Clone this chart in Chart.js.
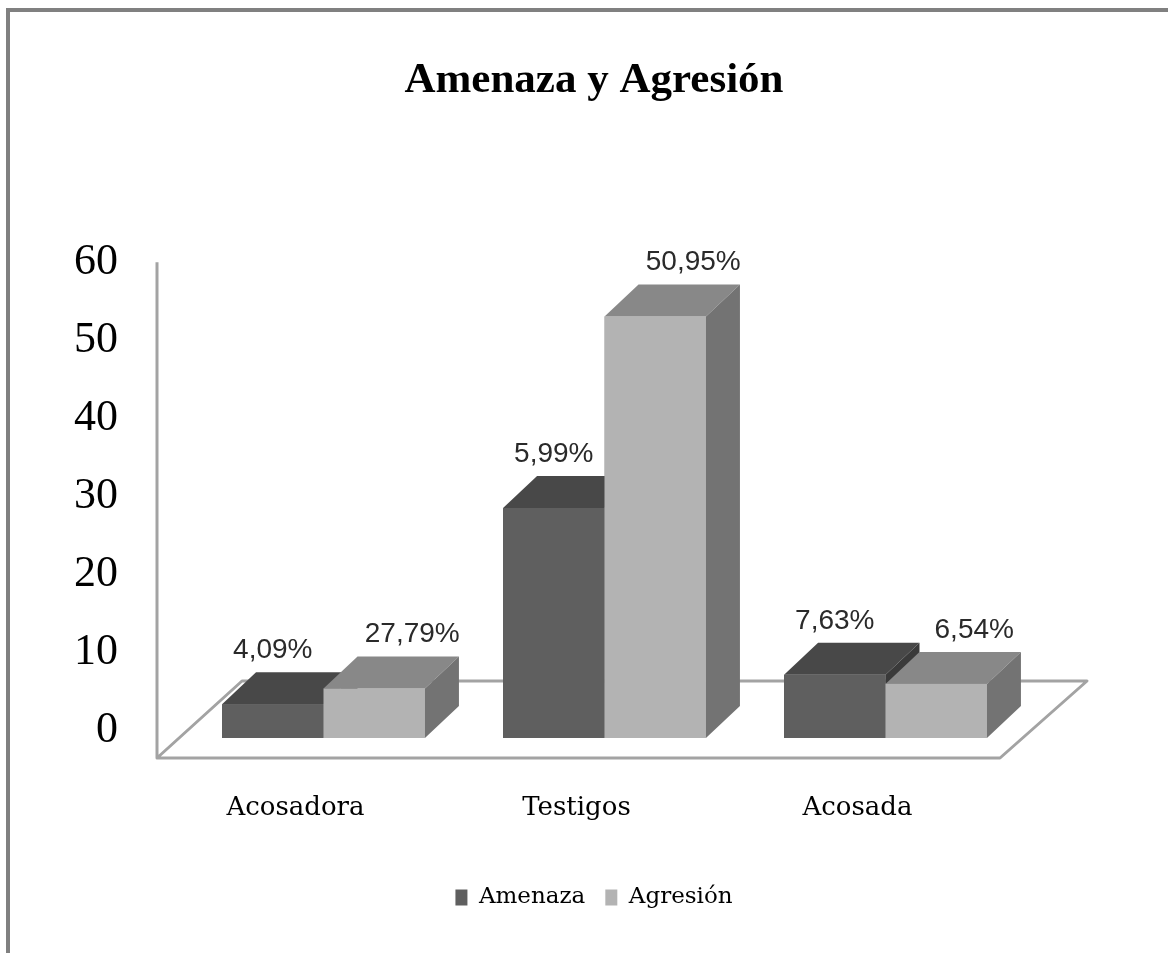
<!DOCTYPE html>
<html>
<head>
<meta charset="utf-8">
<script src="https://cdn.jsdelivr.net/npm/chart.js@4/dist/chart.umd.min.js"></script>
<style>
html, body { margin: 0; padding: 0; background: #fff; }
#wrap { position: relative; width: 1168px; height: 953px; overflow: hidden; }
#chart { position: absolute; left: 0; top: 0; }
.edge-top { position: absolute; left: 6px; top: 8px; right: 0; height: 4px; background: #808080; }
.edge-left { position: absolute; left: 6px; top: 8px; bottom: 0; width: 4px; background: #808080; }
</style>
</head>
<body>
<div id="wrap">
  <canvas id="chart" width="1168" height="953"></canvas>
  <div class="edge-top"></div>
  <div class="edge-left"></div>
</div>
<script>
var categories = ["Acosadora", "Testigos", "Acosada"];
var seriesNames = ["Amenaza", "Agresión"];
var amenaza = [4.09, 27.79, 7.63];
var agresion = [5.99, 50.95, 6.54];
// labels as printed on the original (they don't all match the bar heights)
var amenazaLabels = ["4,09%", "5,99%", "7,63%"];
var agresionLabels = ["27,79%", "50,95%", "6,54%"];
var yTicks = [0, 10, 20, 30, 40, 50, 60];

var faces = [
    { front: "#5f5f5f", top: "#484848", side: "#3a3a3a" },
    { front: "#b3b3b3", top: "#888888", side: "#737373" }
];
var depthX = 34;
var depthY = 32;

var floorPlugin = {
    id: "floor",
    beforeDatasetsDraw: function(chart) {
        var ctx = chart.ctx;
        var a = chart.chartArea;
        var zero = chart.scales.y.getPixelForValue(0);
        var front = zero + 20, back = zero - 57;
        ctx.save();
        ctx.strokeStyle = "#a3a3a3";
        ctx.lineWidth = 3;
        ctx.lineJoin = "round";
        ctx.beginPath();
        ctx.moveTo(a.left - 26, chart.scales.y2.getPixelForValue(60));
        ctx.lineTo(a.left - 26, front);
        ctx.lineTo(a.right - 26, front);
        ctx.lineTo(a.right + 61, back);
        ctx.lineTo(a.left + 59, back);
        ctx.lineTo(a.left - 26, front);
        ctx.stroke();
        ctx.restore();
    }
};

var boxPlugin = {
    id: "boxes",
    afterDatasetsDraw: function(chart) {
        var ctx = chart.ctx;
        ctx.save();
        // paint left to right so the nearer faces cover the ones behind
        for (var i = 0; i < categories.length; i++) {
            for (var d = 0; d < chart.data.datasets.length; d++) {
                var bar = chart.getDatasetMeta(d).data[i];
                var left = bar.x - bar.width / 2;
                var right = bar.x + bar.width / 2;
                var top = bar.y, base = bar.base;
                var f = faces[d];

                ctx.fillStyle = f.top;
                ctx.beginPath();
                ctx.moveTo(left, top);
                ctx.lineTo(left + depthX, top - depthY);
                ctx.lineTo(right + depthX, top - depthY);
                ctx.lineTo(right, top);
                ctx.closePath();
                ctx.fill();

                ctx.fillStyle = f.side;
                ctx.beginPath();
                ctx.moveTo(right, top);
                ctx.lineTo(right + depthX, top - depthY);
                ctx.lineTo(right + depthX, base - depthY);
                ctx.lineTo(right, base);
                ctx.closePath();
                ctx.fill();

                ctx.fillStyle = f.front;
                ctx.fillRect(left, top, right - left, base - top);
            }
        }

        ctx.fillStyle = "#2a2a2a";
        ctx.font = "28px 'Liberation Sans'";
        ctx.textAlign = "center";
        ctx.textBaseline = "middle";
        var texts = [amenazaLabels, agresionLabels];
        var shift = [0, 38];
        for (var d = 0; d < texts.length; d++) {
            var meta = chart.getDatasetMeta(d);
            for (var i = 0; i < texts[d].length; i++) {
                var bar = meta.data[i];
                ctx.fillText(texts[d][i], bar.x + shift[d], bar.y - depthY - 22);
            }
        }
        ctx.restore();
    }
};

new Chart(document.getElementById("chart"), {
    type: "bar",
    data: {
        labels: categories,
        datasets: [
            { label: seriesNames[0], data: amenaza, backgroundColor: faces[0].front, yAxisID: "y" },
            { label: seriesNames[1], data: agresion, backgroundColor: faces[1].front, yAxisID: "y" }
        ]
    },
    options: {
        responsive: false,
        animation: false,
        categoryPercentage: 0.722,
        barPercentage: 1,
        layout: { padding: { top: 20, left: 40, right: 20, bottom: 34 } },
        plugins: {
            title: {
                display: true,
                text: "Amenaza y Agresión",
                color: "#000",
                font: { family: "Liberation Serif", size: 43, weight: "bold" },
                padding: { top: 35, bottom: 135 }
            },
            legend: {
                position: "bottom",
                labels: {
                    boxWidth: 12,
                    boxHeight: 16,
                    padding: 20,
                    color: "#000",
                    font: { family: "DejaVu Serif", size: 23 }
                }
            },
            tooltip: { enabled: false }
        },
        scales: {
            x: {
                grid: { display: false, drawTicks: false },
                border: { display: false },
                ticks: {
                    color: "#000",
                    font: { family: "DejaVu Serif", size: 26 },
                    padding: 55,
                    labelOffset: -28
                },
                afterFit: function(s) { s.height = 128; }
            },
            y: {
                position: "right",
                min: 0,
                max: 60,
                grid: { display: false, drawTicks: false },
                border: { display: false },
                ticks: { display: false },
                afterFit: function(s) { s.width = 122; }
            },
            y2: {
                position: "left",
                min: -1.03,
                max: 62.64,
                grid: { display: false, drawTicks: false },
                border: { display: false },
                ticks: {
                    color: "#000",
                    font: { family: "Liberation Serif", size: 44 },
                    padding: 65
                },
                afterBuildTicks: function(s) {
                    s.ticks = yTicks.map(function(v) { return { value: v }; });
                },
                afterFit: function(s) { s.width = 143; }
            }
        }
    },
    plugins: [floorPlugin, boxPlugin]
});
</script>
</body>
</html>
